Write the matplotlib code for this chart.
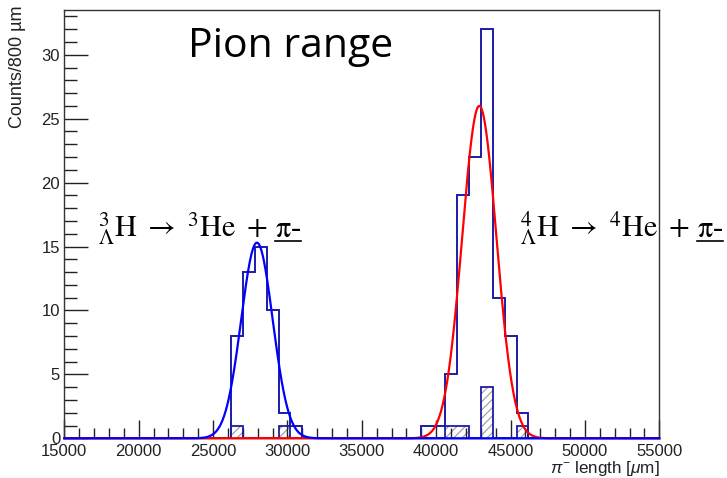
import numpy as np
import matplotlib
matplotlib.use("Agg")
import matplotlib.pyplot as plt
from matplotlib.lines import Line2D

# ---- histogram data (bins of 800 um from 15000 to 55000 um) ----
bin_start = 15000
bin_width = 800
n_bins = 50

# all pion tracks, counts per bin
counts = [0] * n_bins
counts[14:20] = [8, 13, 15, 10, 2, 1]                 # hypertriton decays
counts[30:39] = [1, 1, 5, 19, 22, 32, 11, 8, 2]       # 4LH decays

# hatched sub-sample
hatched = [0] * n_bins
hatched[14] = 1
hatched[18] = 1
hatched[32] = 1
hatched[33] = 1
hatched[35] = 4
hatched[38] = 1

# gaussian fits: amplitude, mean, sigma
fit_3LH = (15.3, 27950, 1060)
fit_4LH = (26.0, 42900, 1150)

x_range = (15000, 55000)
y_max = 33.5

W, H = 727, 478
plt.rcParams["font.family"] = ["Liberation Sans", "DejaVu Sans"]
plt.rcParams["mathtext.fontset"] = "custom"
plt.rcParams["mathtext.rm"] = "Liberation Sans"
plt.rcParams["mathtext.it"] = "Liberation Sans:italic"
plt.rcParams["hatch.linewidth"] = 0.8

fig = plt.figure(figsize=(W / 100, H / 100), dpi=100)
ax = fig.add_axes([64.3 / W, 1 - 438.3 / H, (659.3 - 64.3) / W, (438.3 - 10) / H])

edges = bin_start + bin_width * np.arange(n_bins + 1)

hist_blue = "#1c1ca6"
# hatched part
ax.bar(edges[:-1], hatched, width=bin_width, align="edge", fill=False,
       hatch="////", edgecolor="#9a9a9a", linewidth=0, zorder=1)
ax.stairs(hatched, edges, color=hist_blue, linewidth=1.3, zorder=2)
# full histogram
ax.stairs(counts, edges, color=hist_blue, linewidth=1.4, zorder=3)

xs = np.linspace(x_range[0], x_range[1], 2000)


def gauss(x, p):
    a, m, s = p
    return a * np.exp(-0.5 * ((x - m) / s) ** 2)


ax.plot(xs, gauss(xs, fit_4LH), color="#ff0000", linewidth=1.6, zorder=4, clip_on=False)
ax.plot(xs, gauss(xs, fit_3LH), color="#0000ff", linewidth=1.6, zorder=5, clip_on=False)

ax.set_xlim(*x_range)
ax.set_ylim(0, y_max)
ax.set_xticks(np.arange(15000, 55001, 5000))
ax.set_xticks(np.arange(15000, 55001, 1000), minor=True)
ax.set_yticks(np.arange(0, 31, 5))
ax.set_yticks(np.arange(0, 34, 1), minor=True)
ax.tick_params(axis="both", which="both", direction="in", top=False, right=False,
               color="#222222", width=1.0, labelsize=12, labelcolor="#222222")
ax.tick_params(axis="x", which="major", length=13, pad=4)
ax.tick_params(axis="x", which="minor", length=7)
ax.tick_params(axis="y", which="major", length=17, pad=3)
ax.tick_params(axis="y", which="minor", length=9)
for sp in ax.spines.values():
    sp.set_color("#333333")
    sp.set_linewidth(1.0)

fig.text(18 / W, 1 - 5 / H, "Counts/800 µm", rotation=90, ha="center", va="top",
         fontsize=13, color="#222222")
fig.text(660 / W, 1 - 473 / H, r"$\pi^{-}$ length [$\mu$m]", ha="right", va="baseline",
         fontsize=12.3, color="#222222")

fig.text(188 / W, 1 - 56.7 / H, "Pion range", fontfamily="Open Sans", fontsize=29.5,
         ha="left", va="baseline", color="black")


def reaction(x_px, y_px, mass):
    main = fig.text(x_px / W, 1 - y_px / H,
                    rf"${{}}^{{{mass}}}_{{\Lambda}}\mathrm{{H}}\ \rightarrow\ {{}}^{{{mass}}}\mathrm{{He}}\ +$",
                    math_fontfamily="stix", fontsize=21.7, ha="left", va="baseline")
    fig.canvas.draw()
    bb = main.get_window_extent()
    tail = fig.text((bb.x1 + 7) / W, 1 - y_px / H, r"$\mathrm{\pi}$-",
                    fontfamily="Liberation Serif", math_fontfamily="stix", fontsize=21.7,
                    ha="left", va="baseline")
    fig.canvas.draw()
    tb = tail.get_window_extent()
    yline = (H - y_px - 4) / H
    fig.add_artist(Line2D([tb.x0 / W, tb.x1 / W], [yline, yline], transform=fig.transFigure,
                          color="black", linewidth=1.2))


reaction(98, 236.7, 3)
reaction(520, 236.7, 4)

fig.savefig("out.png", dpi=100)
